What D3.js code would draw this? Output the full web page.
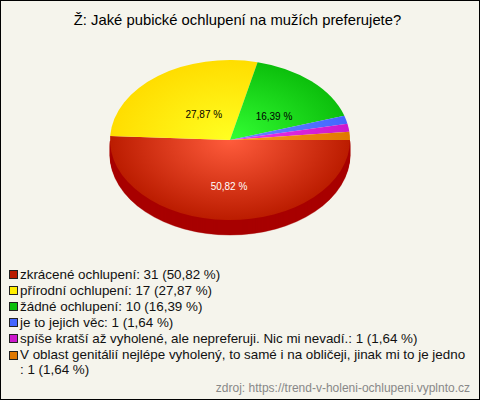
<!DOCTYPE html>
<html><head><meta charset="utf-8">
<script src="https://cdn.jsdelivr.net/npm/d3@7"></script>
<style>html,body{margin:0;padding:0;background:#f5f4ec}svg{display:block}text{font-family:"Liberation Sans",Arial,sans-serif}</style>
</head><body><script>
const titleText = "Ž: Jaké pubické ochlupení na mužích preferujete?";
const categories = ["zkrácené ochlupení","přírodní ochlupení","žádné ochlupení","je to jejich věc","spíše kratší až vyholené, ale nepreferuji. Nic mi nevadí.","V oblast genitálií nejlépe vyholený, to samé i na obličeji, jinak mi to je jedno"];
const counts = [31,17,10,1,1,1];
const percents = ["50,82","27,87","16,39","1,64","1,64","1,64"];
const inner = ["#ff5c3c","#ffff22","#33ff33","#6688ff","#ee33ee","#ff9922"];
const outer = ["#bb1c00","#ffdd00","#0cbf0c","#4466ff","#cc18cc","#e07800"];
const swatch = ["#bb1c00","#ffee00","#0cbf0c","#4466ff","#cc18cc","#e07800"];
const labelFill = ["#fff","#000","#000"];
const sourceText = "zdroj: https://trend-v-holeni-ochlupeni.vyplnto.cz";

const labelReachX=[0.32,0.364,0.54], labelReachY=[0.575,0.404,0.41];
const W=480,H=400,cx=230,cy=140,rx=120,ry=80,depth=15;
const svg=d3.select("body").append("svg").attr("width",W).attr("height",H);
svg.append("rect").attr("x",.5).attr("y",.5).attr("width",W-1).attr("height",H-1).attr("fill","#f5f4ec").attr("stroke","#000");
const defs=svg.append("defs");
svg.append("text").attr("x",237.5).attr("y",25).attr("text-anchor","middle").attr("font-size",14.8).attr("fill","#000").text(titleText);

const pie=d3.pie().sort(null).startAngle(Math.PI/2).endAngle(Math.PI/2+2*Math.PI)(counts);
const arc=d3.arc().innerRadius(0).outerRadius(rx);
const squash=ry/rx;
const side=svg.append("g");
d3.range(depth,0,-1).forEach(d=>{
  side.append("g").attr("transform",`translate(${cx},${cy+d}) scale(1,${squash})`)
   .append("path").attr("d",arc({startAngle:Math.PI/2,endAngle:Math.PI*1.5})).attr("fill","#a80000").attr("stroke","#a80000").attr("stroke-width",.5);
});
const face=svg.append("g").attr("transform",`translate(${cx},${cy}) scale(1,${squash})`);
pie.forEach((p,i)=>{
  const g=defs.append("radialGradient").attr("id","g"+i).attr("gradientUnits","userSpaceOnUse").attr("cx",0).attr("cy",0).attr("r",rx);
  g.append("stop").attr("offset",0).attr("stop-color",inner[i]);
  g.append("stop").attr("offset",1).attr("stop-color",outer[i]);
  face.append("path").attr("d",arc(p)).attr("fill",`url(#g${i})`);
});
labelFill.forEach((fill,i)=>{
  const a=(pie[i].startAngle+pie[i].endAngle)/2-Math.PI/2;
  svg.append("text").attr("x",cx+Math.cos(a)*rx*labelReachX[i]).attr("y",cy+Math.sin(a)*ry*labelReachY[i]+4)
   .attr("text-anchor","middle").attr("font-size",10).attr("fill",fill).text(percents[i]+" %");
});
const rows=[274,290,306,322,338,354.5];
categories.forEach((c,i)=>{
  svg.append("rect").attr("x",9.5).attr("y",Math.round(rows[i])-3.5).attr("width",8).attr("height",8).attr("fill",swatch[i]).attr("stroke","#222");
  const line=i===5?[c,`: ${counts[i]} (${percents[i]} %)`]:[`${c}: ${counts[i]} (${percents[i]} %)`];
  line.forEach((t,j)=>svg.append("text").attr("x",20).attr("y",rows[i]+4.5+j*15).attr("font-size",13.4).attr("fill","#111").text(t));
});
svg.append("text").attr("x",470).attr("y",391.5).attr("text-anchor","end").attr("font-size",12).attr("fill","#888").text(sourceText);
</script></body></html>
